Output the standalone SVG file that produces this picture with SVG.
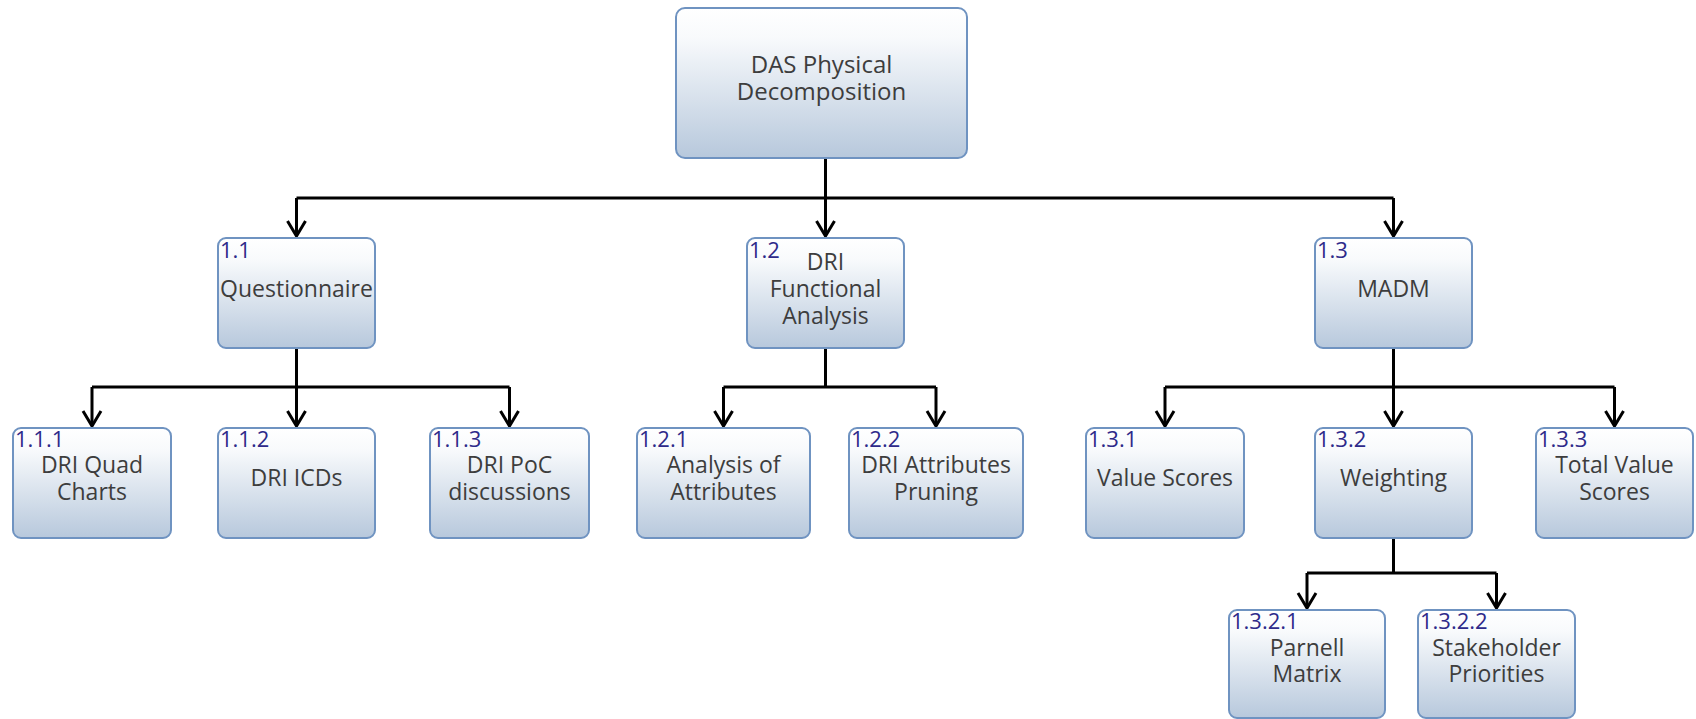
<svg xmlns="http://www.w3.org/2000/svg" width="1696" height="719" viewBox="0 0 1696 719">
<style>
.box{fill:url(#g);stroke:#6f93c1;stroke-width:2}
.t{font-family:"Open Sans","Noto Sans",sans-serif;font-size:23px;fill:#3d3d3d;text-anchor:middle}
.top{font-size:24px}
.n{font-family:"Open Sans","Noto Sans",sans-serif;font-size:22px;fill:#2e2a8a}
.c{fill:none;stroke:#000;stroke-width:3}
.a{fill:none;stroke:#000;stroke-width:3;marker-end:url(#arr)}
</style>
<defs>
<linearGradient id="g" x1="0" y1="0" x2="0" y2="1">
<stop offset="0" stop-color="#ffffff"/>
<stop offset="0.2" stop-color="#f8fafc"/>
<stop offset="1" stop-color="#b7c8dc"/>
</linearGradient>
<marker id="arr" markerUnits="userSpaceOnUse" markerWidth="24" markerHeight="24" refX="17" refY="10" orient="auto" overflow="visible">
<path d="M2,1 L17,10 L2,19" fill="none" stroke="#000" stroke-width="3" stroke-linejoin="miter"/>
</marker>
</defs>
<rect width="1696" height="719" fill="#ffffff"/>
<g id="connectors">
<path class="c" d="M825.5,158 V198 M296.5,198 H1393.5"/>
<path class="a" d="M296.5,198 V236"/>
<path class="a" d="M825.5,198 V236"/>
<path class="a" d="M1393.5,198 V236"/>
<path class="c" d="M296.5,348 V387 M92,387 H509.5"/>
<path class="a" d="M92,387 V426"/>
<path class="a" d="M296.5,387 V426"/>
<path class="a" d="M509.5,387 V426"/>
<path class="c" d="M825.5,348 V387 M723.5,387 H936"/>
<path class="a" d="M723.5,387 V426"/>
<path class="a" d="M936,387 V426"/>
<path class="c" d="M1393.5,348 V387 M1165,387 H1614.5"/>
<path class="a" d="M1165,387 V426"/>
<path class="a" d="M1393.5,387 V426"/>
<path class="a" d="M1614.5,387 V426"/>
<path class="c" d="M1393.5,538 V573 M1307,573 H1496.5"/>
<path class="a" d="M1307,573 V608"/>
<path class="a" d="M1496.5,573 V608"/>
</g>
<g id="n1">
<rect class="box" x="676" y="8" width="291" height="150" rx="9"/>
<text class="t top" x="821.5" y="73">DAS Physical</text>
<text class="t top" x="821.5" y="100">Decomposition</text>
</g>
<g id="n1_1">
<rect class="box" x="218" y="238" width="157" height="110" rx="8"/>
<text class="n" x="220" y="258">1.1</text>
<text class="t" x="296.5" y="297">Questionnaire</text>
</g>
<g id="n1_2">
<rect class="box" x="747" y="238" width="157" height="110" rx="8"/>
<text class="n" x="749" y="258">1.2</text>
<text class="t" x="825.5" y="270">DRI</text>
<text class="t" x="825.5" y="297">Functional</text>
<text class="t" x="825.5" y="324">Analysis</text>
</g>
<g id="n1_3">
<rect class="box" x="1315" y="238" width="157" height="110" rx="8"/>
<text class="n" x="1317" y="258">1.3</text>
<text class="t" x="1393.5" y="297">MADM</text>
</g>
<g id="n1_1_1">
<rect class="box" x="13" y="428" width="158" height="110" rx="8"/>
<text class="n" x="15" y="447">1.1.1</text>
<text class="t" x="92" y="473">DRI Quad</text>
<text class="t" x="92" y="500">Charts</text>
</g>
<g id="n1_1_2">
<rect class="box" x="218" y="428" width="157" height="110" rx="8"/>
<text class="n" x="220" y="447">1.1.2</text>
<text class="t" x="296.5" y="486">DRI ICDs</text>
</g>
<g id="n1_1_3">
<rect class="box" x="430" y="428" width="159" height="110" rx="8"/>
<text class="n" x="432" y="447">1.1.3</text>
<text class="t" x="509.5" y="473">DRI PoC</text>
<text class="t" x="509.5" y="500">discussions</text>
</g>
<g id="n1_2_1">
<rect class="box" x="637" y="428" width="173" height="110" rx="8"/>
<text class="n" x="639" y="447">1.2.1</text>
<text class="t" x="723.5" y="473">Analysis of</text>
<text class="t" x="723.5" y="500">Attributes</text>
</g>
<g id="n1_2_2">
<rect class="box" x="849" y="428" width="174" height="110" rx="8"/>
<text class="n" x="851" y="447">1.2.2</text>
<text class="t" x="936" y="473">DRI Attributes</text>
<text class="t" x="936" y="500">Pruning</text>
</g>
<g id="n1_3_1">
<rect class="box" x="1086" y="428" width="158" height="110" rx="8"/>
<text class="n" x="1088" y="447">1.3.1</text>
<text class="t" x="1165" y="486">Value Scores</text>
</g>
<g id="n1_3_2">
<rect class="box" x="1315" y="428" width="157" height="110" rx="8"/>
<text class="n" x="1317" y="447">1.3.2</text>
<text class="t" x="1393.5" y="486">Weighting</text>
</g>
<g id="n1_3_3">
<rect class="box" x="1536" y="428" width="157" height="110" rx="8"/>
<text class="n" x="1538" y="447">1.3.3</text>
<text class="t" x="1614.5" y="473">Total Value</text>
<text class="t" x="1614.5" y="500">Scores</text>
</g>
<g id="n1_3_2_1">
<rect class="box" x="1229" y="610" width="156" height="108" rx="8"/>
<text class="n" x="1231" y="629">1.3.2.1</text>
<text class="t" x="1307" y="656">Parnell</text>
<text class="t" x="1307" y="682">Matrix</text>
</g>
<g id="n1_3_2_2">
<rect class="box" x="1418" y="610" width="157" height="108" rx="8"/>
<text class="n" x="1420" y="629">1.3.2.2</text>
<text class="t" x="1496.5" y="656">Stakeholder</text>
<text class="t" x="1496.5" y="682">Priorities</text>
</g>
</svg>
